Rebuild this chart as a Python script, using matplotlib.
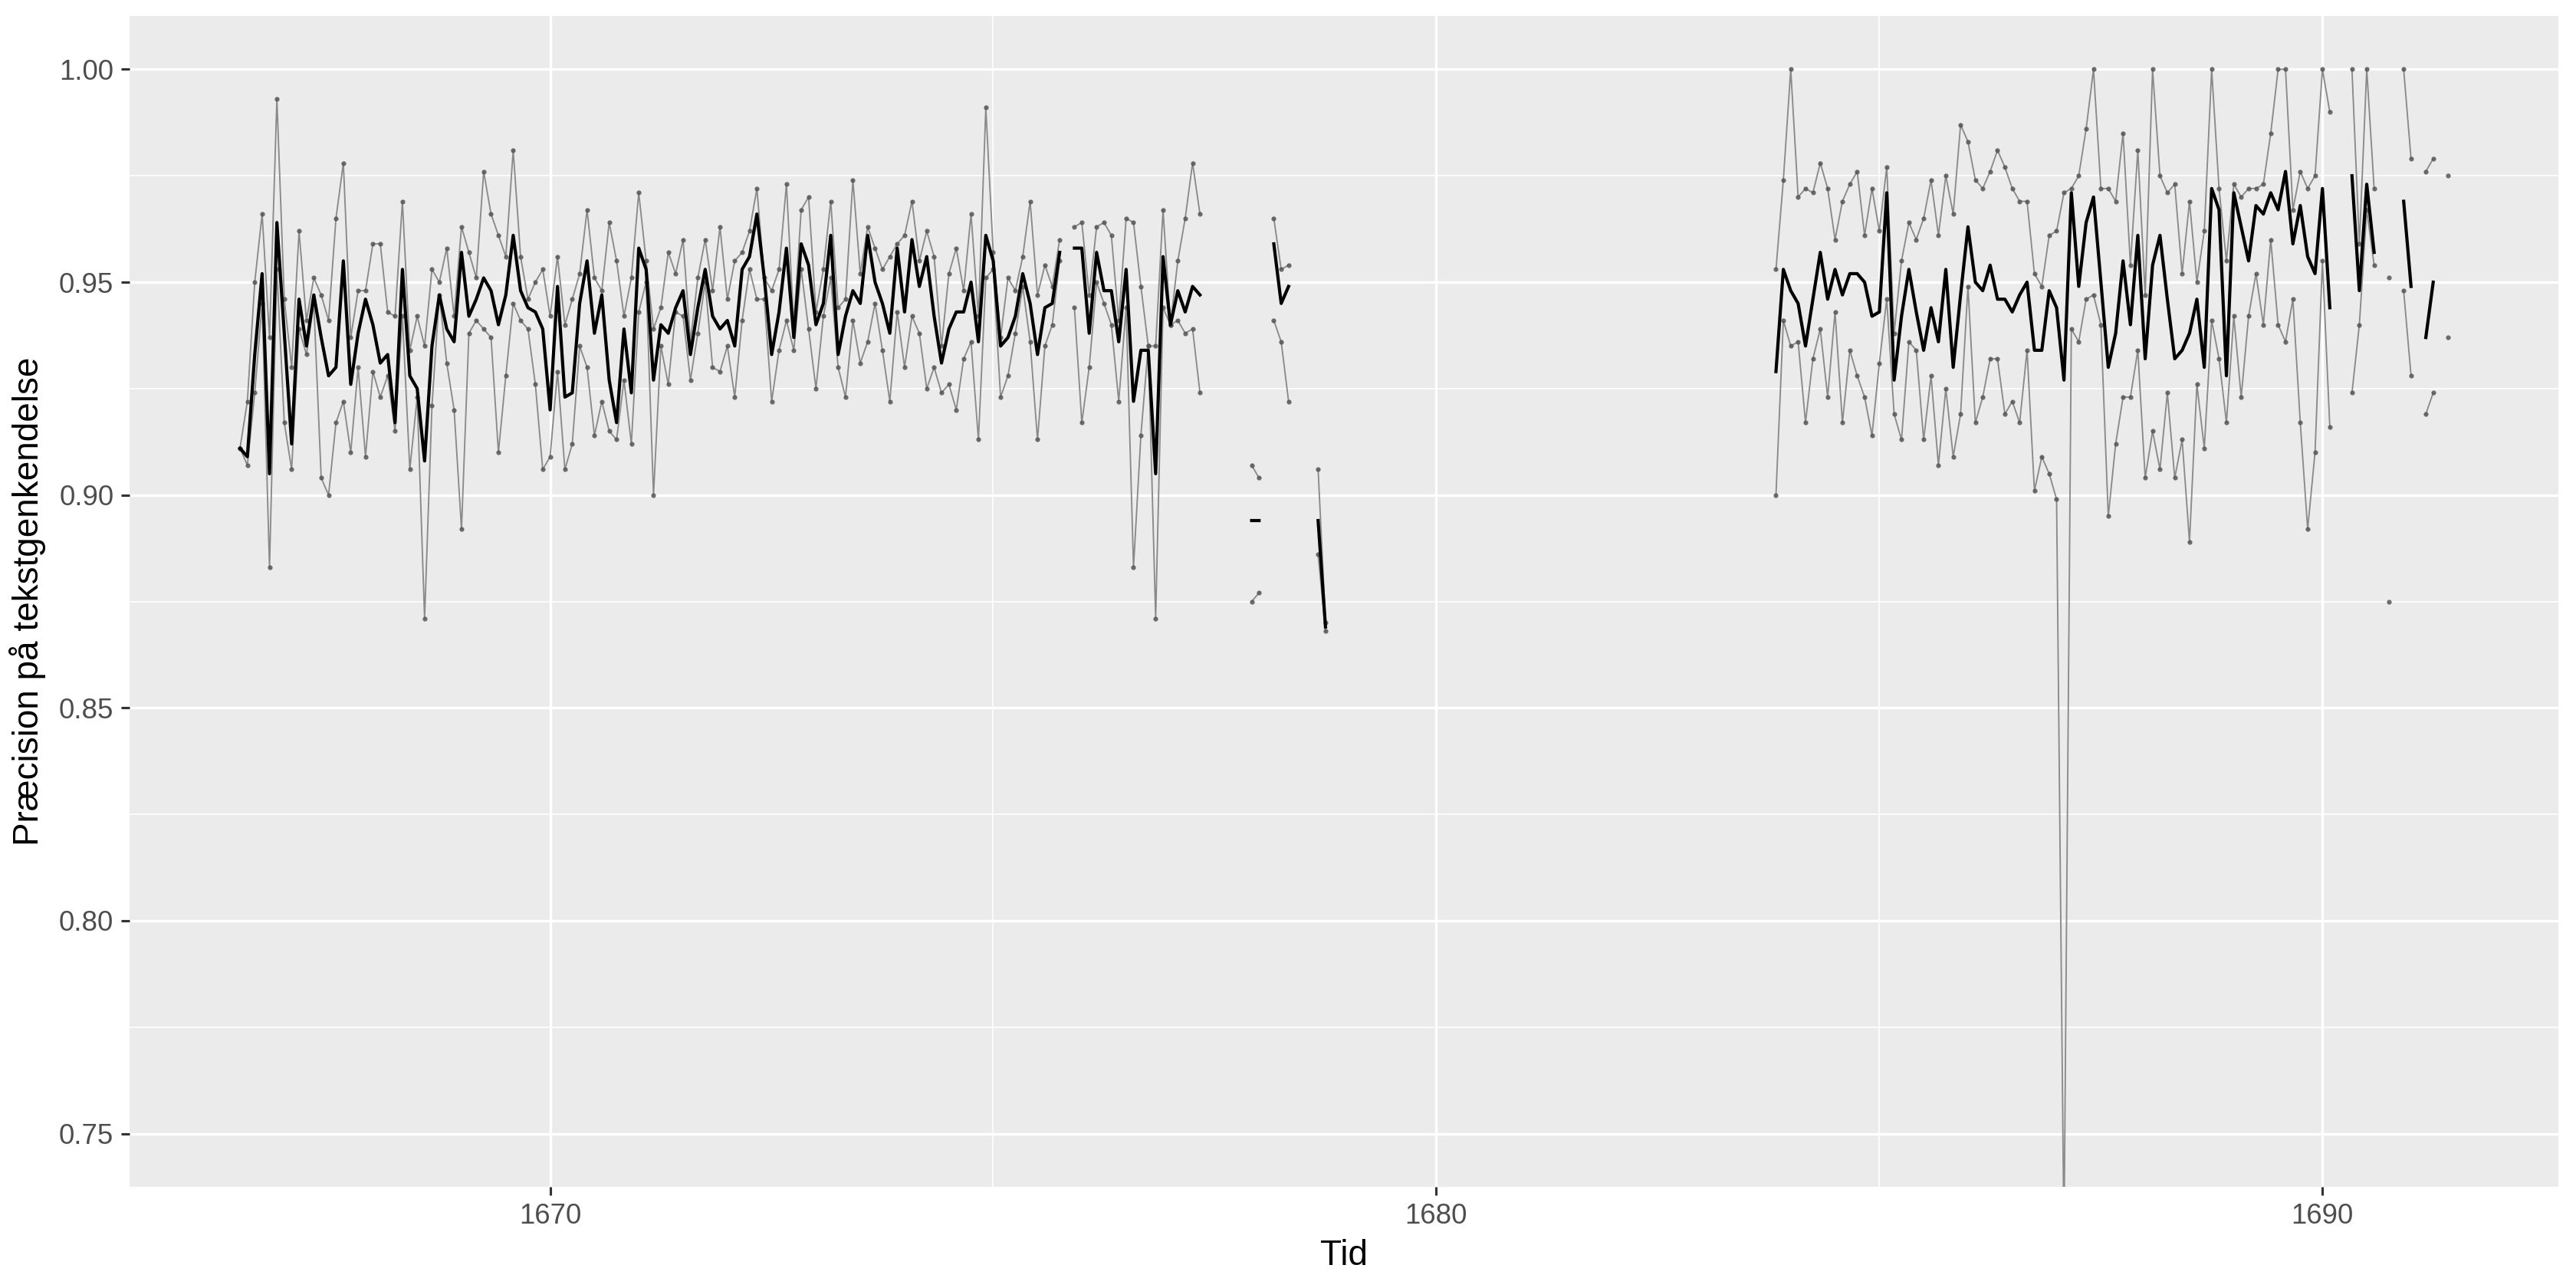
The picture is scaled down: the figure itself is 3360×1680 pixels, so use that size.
import numpy as np
import matplotlib.pyplot as plt
from matplotlib.ticker import FixedLocator, FormatStrFormatter

nan = np.nan

# monthly series, first month mid-1666
start = 1666.5

upper = [
    0.911, 0.922, 0.950, 0.966, 0.937, 0.993, 0.946, 0.930, 0.962, 0.941,
    0.951, 0.947, 0.941, 0.965, 0.978, 0.937, 0.948, 0.948, 0.959, 0.959,
    0.943, 0.942, 0.969, 0.934, 0.942, 0.935, 0.953, 0.950, 0.958, 0.942,
    0.963, 0.957, 0.951, 0.976, 0.966, 0.961, 0.956, 0.981, 0.956, 0.946,
    0.950, 0.953, 0.942, 0.956, 0.940, 0.946, 0.952, 0.967, 0.951, 0.948,
    0.964, 0.955, 0.942, 0.951, 0.971, 0.955, 0.939, 0.944, 0.957, 0.952,
    0.960, 0.936, 0.951, 0.960, 0.948, 0.963, 0.946, 0.955, 0.957, 0.962,
    0.972, 0.951, 0.948, 0.953, 0.973, 0.940, 0.967, 0.970, 0.943, 0.953,
    0.969, 0.944, 0.946, 0.974, 0.952, 0.963, 0.958, 0.953, 0.956, 0.959,
    0.961, 0.969, 0.955, 0.962, 0.956, 0.935, 0.952, 0.958, 0.948, 0.966,
    0.942, 0.991, 0.957, 0.937, 0.951, 0.948, 0.956, 0.969, 0.947, 0.954,
    0.949, 0.960, nan, 0.963, 0.964, 0.947, 0.963, 0.964, 0.961, 0.941,
    0.965, 0.964, 0.949, 0.935, 0.935, 0.967, 0.940, 0.955, 0.965, 0.978,
    0.966, nan, nan, nan, nan, nan, nan, 0.907, 0.904, nan,
    0.965, 0.953, 0.954, nan, nan, nan, 0.906, 0.870] + [nan] * 60 + [
    0.953, 0.974, 1.000, 0.970, 0.972, 0.971, 0.978, 0.972, 0.960, 0.969,
    0.973, 0.976, 0.961, 0.972, 0.962, 0.977, 0.938, 0.955, 0.964, 0.960,
    0.965, 0.974, 0.961, 0.975, 0.966, 0.987, 0.983, 0.974, 0.972, 0.976,
    0.981, 0.977, 0.972, 0.969, 0.969, 0.952, 0.949, 0.961, 0.962, 0.971,
    0.972, 0.975, 0.986, 1.000, 0.972, 0.972, 0.969, 0.985, 0.954, 0.981,
    0.947, 1.000, 0.975, 0.971, 0.973, 0.952, 0.969, 0.950, 0.962, 1.000,
    0.972, 0.955, 0.973, 0.970, 0.972, 0.972, 0.973, 0.985, 1.000, 1.000,
    0.967, 0.976, 0.972, 0.975, 1.000, 0.990, nan, nan, 1.000, 0.959,
    1.000, 0.972, nan, 0.951, nan, 1.000, 0.979, nan, 0.976, 0.979,
    nan, 0.975]

lower = [
    0.911, 0.907, 0.924, 0.945, 0.883, 0.953, 0.917, 0.906, 0.939, 0.933,
    0.945, 0.904, 0.900, 0.917, 0.922, 0.910, 0.930, 0.909, 0.929, 0.923,
    0.928, 0.915, 0.942, 0.906, 0.923, 0.871, 0.921, 0.947, 0.931, 0.920,
    0.892, 0.938, 0.941, 0.939, 0.937, 0.910, 0.928, 0.945, 0.941, 0.939,
    0.926, 0.906, 0.909, 0.929, 0.906, 0.912, 0.935, 0.930, 0.914, 0.922,
    0.915, 0.913, 0.927, 0.912, 0.943, 0.950, 0.900, 0.935, 0.926, 0.943,
    0.942, 0.927, 0.938, 0.950, 0.930, 0.929, 0.935, 0.923, 0.941, 0.953,
    0.946, 0.946, 0.922, 0.934, 0.941, 0.934, 0.953, 0.939, 0.925, 0.942,
    0.951, 0.930, 0.923, 0.941, 0.931, 0.936, 0.945, 0.934, 0.922, 0.943,
    0.930, 0.942, 0.938, 0.925, 0.930, 0.924, 0.926, 0.920, 0.932, 0.936,
    0.913, 0.951, 0.953, 0.923, 0.928, 0.938, 0.949, 0.936, 0.913, 0.935,
    0.940, 0.955, nan, 0.944, 0.917, 0.930, 0.950, 0.945, 0.940, 0.922,
    0.944, 0.883, 0.914, 0.935, 0.871, 0.944, 0.940, 0.941, 0.938, 0.939,
    0.924, nan, nan, nan, nan, nan, nan, 0.875, 0.877, nan,
    0.941, 0.936, 0.922, nan, nan, nan, 0.886, 0.868] + [nan] * 60 + [
    0.900, 0.941, 0.935, 0.936, 0.917, 0.932, 0.939, 0.923, 0.943, 0.917,
    0.934, 0.928, 0.923, 0.914, 0.931, 0.946, 0.919, 0.913, 0.936, 0.934,
    0.913, 0.928, 0.907, 0.925, 0.909, 0.919, 0.949, 0.917, 0.923, 0.932,
    0.932, 0.919, 0.922, 0.917, 0.934, 0.901, 0.909, 0.905, 0.899, 0.725,
    0.939, 0.936, 0.946, 0.947, 0.940, 0.895, 0.912, 0.923, 0.923, 0.934,
    0.904, 0.915, 0.906, 0.924, 0.904, 0.913, 0.889, 0.926, 0.911, 0.941,
    0.932, 0.917, 0.942, 0.923, 0.942, 0.952, 0.940, 0.960, 0.940, 0.936,
    0.946, 0.917, 0.892, 0.910, 0.955, 0.916, nan, nan, 0.924, 0.940,
    0.967, 0.954, nan, 0.875, nan, 0.948, 0.928, nan, 0.919, 0.924,
    nan, 0.937]

mean = [
    0.911, 0.909, 0.933, 0.952, 0.905, 0.964, 0.938, 0.912, 0.946, 0.935,
    0.947, 0.937, 0.928, 0.930, 0.955, 0.926, 0.938, 0.946, 0.940, 0.931,
    0.933, 0.917, 0.953, 0.928, 0.925, 0.908, 0.935, 0.947, 0.939, 0.936,
    0.957, 0.942, 0.946, 0.951, 0.948, 0.940, 0.947, 0.961, 0.948, 0.944,
    0.943, 0.939, 0.920, 0.949, 0.923, 0.924, 0.945, 0.955, 0.938, 0.947,
    0.927, 0.917, 0.939, 0.924, 0.958, 0.953, 0.927, 0.940, 0.938, 0.944,
    0.948, 0.933, 0.944, 0.953, 0.942, 0.939, 0.941, 0.935, 0.953, 0.956,
    0.966, 0.951, 0.933, 0.943, 0.958, 0.937, 0.959, 0.954, 0.940, 0.945,
    0.961, 0.933, 0.942, 0.948, 0.945, 0.961, 0.950, 0.945, 0.938, 0.958,
    0.943, 0.960, 0.949, 0.956, 0.942, 0.931, 0.939, 0.943, 0.943, 0.950,
    0.936, 0.961, 0.955, 0.935, 0.937, 0.942, 0.952, 0.945, 0.933, 0.944,
    0.945, 0.957, nan, 0.958, 0.958, 0.938, 0.957, 0.948, 0.948, 0.936,
    0.953, 0.922, 0.934, 0.934, 0.905, 0.956, 0.940, 0.948, 0.943, 0.949,
    0.947, nan, nan, nan, nan, nan, nan, 0.894, 0.894, nan,
    0.959, 0.945, 0.949, nan, nan, nan, 0.894, 0.869] + [nan] * 60 + [
    0.929, 0.953, 0.948, 0.945, 0.935, 0.946, 0.957, 0.946, 0.953, 0.947,
    0.952, 0.952, 0.950, 0.942, 0.943, 0.971, 0.927, 0.942, 0.953, 0.943,
    0.934, 0.944, 0.936, 0.953, 0.930, 0.947, 0.963, 0.950, 0.948, 0.954,
    0.946, 0.946, 0.943, 0.947, 0.950, 0.934, 0.934, 0.948, 0.944, 0.927,
    0.971, 0.949, 0.964, 0.970, 0.950, 0.930, 0.938, 0.955, 0.940, 0.961,
    0.932, 0.954, 0.961, 0.946, 0.932, 0.934, 0.938, 0.946, 0.930, 0.972,
    0.967, 0.928, 0.971, 0.963, 0.955, 0.968, 0.966, 0.971, 0.967, 0.976,
    0.959, 0.968, 0.956, 0.952, 0.972, 0.944, nan, nan, 0.975, 0.948,
    0.973, 0.957, nan, 0.930, nan, 0.969, 0.949, nan, 0.937, 0.950,
    nan, 0.955]

upper = np.array(upper)
lower = np.array(lower)
mean = np.array(mean)
t = start + np.arange(len(mean)) / 12

plt.rcParams['font.family'] = ['Liberation Sans', 'DejaVu Sans']

fig = plt.figure(figsize=(11.2, 5.6), dpi=300)
ax = fig.add_axes([169 / 3360, 1 - 1548 / 1680, (3337 - 169) / 3360, (1548 - 21) / 1680])
ax.set_facecolor('#EBEBEB')
for s in ax.spines.values():
    s.set_visible(False)

# grey bounds with points, black central line
for y in (upper, lower):
    ax.plot(t, y, color='#8a8a8a', lw=0.45, zorder=3)
    ax.plot(t, y, ls='none', marker='o', ms=1.5, mfc='#555555', mec='none', alpha=0.85, zorder=4)
ax.plot(t, mean, color='black', lw=1.0, zorder=5)

pad = 0.05 * (t[-1] - t[0])
ax.set_xlim(t[0] - pad, t[-1] + pad)
ax.set_ylim(0.7375, 1.0125)

ax.xaxis.set_major_locator(FixedLocator([1670, 1680, 1690]))
ax.xaxis.set_minor_locator(FixedLocator([1665, 1675, 1685]))
ax.yaxis.set_major_locator(FixedLocator([0.75, 0.80, 0.85, 0.90, 0.95, 1.00]))
ax.yaxis.set_minor_locator(FixedLocator([0.775, 0.825, 0.875, 0.925, 0.975]))
ax.yaxis.set_major_formatter(FormatStrFormatter('%.2f'))
ax.grid(which='major', color='white', lw=0.8, zorder=1)
ax.grid(which='minor', color='white', lw=0.4, zorder=1)
ax.set_axisbelow(True)
ax.tick_params(which='major', length=2.75, width=0.75, color='#333333',
               labelsize=8.8, labelcolor='#4D4D4D', pad=2.2)
ax.tick_params(which='minor', length=0)

ax.set_xlabel('Tid', fontsize=11, labelpad=3)
ax.set_ylabel('Præcision på tekstgenkendelse', fontsize=11, labelpad=4)

fig.savefig('out.png', dpi=300)
